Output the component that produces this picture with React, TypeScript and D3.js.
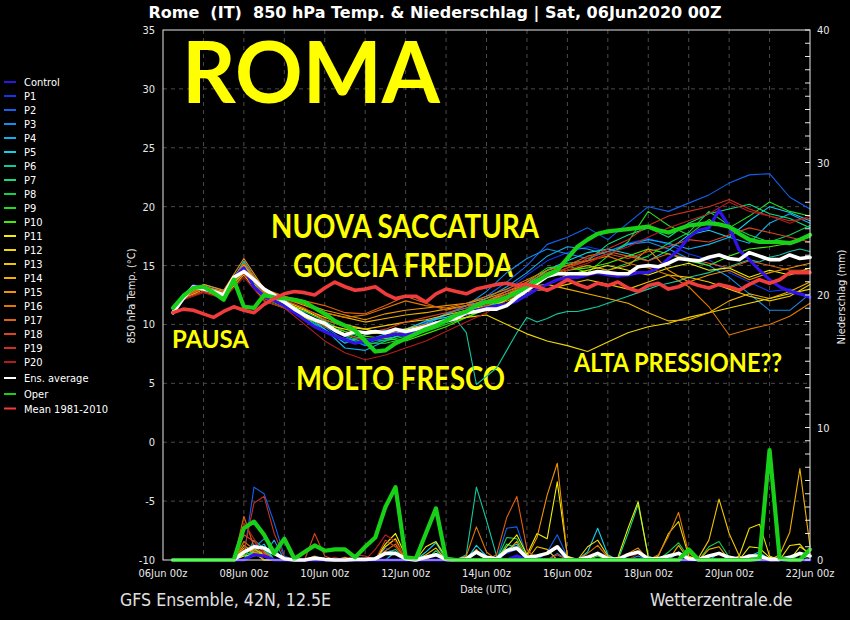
import React from 'react';
import * as d3 from 'd3';

const W = 850;
const H = 620;
const X0 = 163;
const X1 = 810;
const Y0 = 30;
const Y1 = 560;

const DAY_TICKS = [0, 2, 4, 6, 8, 10, 12, 14, 16];
const DAY_LABELS = ['06Jun 00z', '08Jun 00z', '10Jun 00z', '12Jun 00z', '14Jun 00z', '16Jun 00z', '18Jun 00z', '20Jun 00z', '22Jun 00z'];
const GRID_DAYS = [1, 2, 3, 4, 5, 6, 7, 8, 9, 10, 11, 12, 13, 14, 15];
const TEMP_TICKS = [35, 30, 25, 20, 15, 10, 5, 0, -5, -10];
const TEMP_GRID = [30, 25, 20, 15, 10, 5, 0, -5];
const PRECIP_TICKS = [0, 10, 20, 30, 40];
const PRECIP_MINOR = d3.range(0, 41);

// time grids (days after 06Jun 00z)
const T6 = d3.range(64).map((i) => 0.25 + i * 0.25);
const T12 = [0.25, ...d3.range(1, 33).map((i) => i * 0.5)];

const MEMBER_NAMES = ['P1', 'P2', 'P3', 'P4', 'P5', 'P6', 'P7', 'P8', 'P9', 'P10', 'P11', 'P12', 'P13', 'P14', 'P15', 'P16', 'P17', 'P18', 'P19', 'P20'];
const MEMBER_COLORS = ['#1236f0', '#1262f0', '#128ef0', '#10b0f0', '#10d0ec', '#10c8a0', '#10dc80', '#10d050', '#20dc20', '#44ec00', '#f0f000', '#f0d800', '#f0c400', '#f0b000', '#f09400', '#e07800', '#e06010', '#dc4420', '#cc3020', '#b41c1c'];

// 850 hPa temperature, members (12h)
const tempP1 = [11.1, 12.4, 13.3, 12.8, 14.6, 12.3, 11.5, 10.4, 9.4, 8.8, 8.6, 8.9, 9.4, 9.9, 10.3, 11.0, 11.8, 12.9, 14.2, 15.4, 16.1, 16.6, 16.2, 16.9, 17.3, 16.8, 16.0, 15.5, 14.4, 13.6, 12.8, 13.0, 12.4];
const tempP2 = [11.0, 12.5, 13.4, 12.9, 15.2, 12.6, 11.9, 11.0, 9.8, 8.6, 8.3, 9.0, 9.6, 10.2, 10.9, 11.6, 12.4, 13.6, 15.0, 16.8, 17.4, 18.2, 17.2, 18.6, 20.0, 19.6, 20.3, 21.0, 22.0, 22.7, 22.8, 20.8, 19.8];
const tempP3 = [10.9, 12.3, 13.1, 12.6, 14.9, 12.5, 11.8, 10.8, 9.9, 9.0, 8.2, 8.7, 9.2, 10.0, 10.8, 11.6, 12.8, 14.4, 15.6, 16.4, 16.0, 15.6, 16.2, 16.8, 17.0, 16.4, 15.6, 15.0, 14.0, 12.6, 11.2, 11.2, 12.6];
const tempP4 = [11.2, 12.6, 13.2, 12.4, 15.4, 12.8, 12.0, 10.6, 9.6, 8.0, 7.8, 8.6, 9.3, 10.1, 10.9, 11.4, 12.2, 13.2, 14.4, 15.8, 16.6, 16.4, 15.9, 16.8, 17.2, 16.9, 16.4, 16.8, 17.4, 16.9, 18.6, 19.4, 18.6];
const tempP5 = [11.0, 12.2, 13.0, 12.5, 14.7, 12.7, 12.1, 10.9, 9.6, 8.4, 9.1, 9.5, 9.6, 10.3, 10.6, 11.2, 11.8, 12.6, 13.4, 14.6, 15.4, 16.1, 16.4, 16.0, 15.4, 16.3, 17.6, 18.0, 17.4, 18.8, 20.0, 19.5, 18.8];
const tempP6 = [
  11.1, 12.3, 13.3, 13.1, 12.9, 12.6, 13.8, 15.3,
  13.2, 12.6, 12.2, 11.8, 11.2, 10.6, 10.0, 9.4,
  9.0, 8.8, 8.6, 8.5, 8.9, 9.2, 9.3, 9.5,
  9.6, 9.9, 10.2, 10.5, 10.4, 9.3, 4.9, 5.6,
  6.3, 7.8, 9.3, 10.6, 10.2, 10.5, 10.9, 11.1,
  11.1, 11.3, 11.5, 11.8, 12.1, 12.4, 12.7, 13.0,
  13.3, 13.5, 13.7, 14.0, 14.2, 14.4, 14.7, 14.9,
  15.2, 15.5, 15.3, 15.7, 15.9, 16.2, 16.4, 16.2,
];
const tempP7 = [11.1, 12.4, 13.2, 12.7, 15.0, 12.4, 11.6, 10.7, 9.8, 9.2, 8.7, 8.8, 9.1, 9.7, 10.4, 11.0, 11.5, 12.2, 13.4, 14.6, 15.2, 15.4, 16.8, 17.6, 18.2, 17.4, 18.6, 19.4, 19.8, 20.2, 19.4, 19.0, 18.2];
const tempP8 = [11.0, 12.3, 13.1, 12.5, 14.8, 12.3, 11.7, 11.1, 10.3, 9.4, 8.8, 8.6, 9.0, 9.6, 10.2, 10.9, 11.6, 12.0, 13.0, 14.0, 14.6, 15.0, 14.6, 15.2, 15.8, 16.9, 17.8, 19.6, 18.4, 17.6, 17.0, 17.6, 18.4];
const tempP9 = [11.2, 12.5, 13.3, 12.6, 15.0, 12.5, 11.9, 10.9, 9.8, 9.1, 8.4, 8.4, 8.8, 9.4, 10.0, 10.6, 11.3, 12.4, 13.6, 14.8, 15.0, 14.4, 15.8, 17.0, 19.6, 18.4, 17.6, 18.9, 18.2, 19.2, 20.4, 19.6, 19.2];
const tempP10 = [11.0, 12.2, 13.0, 12.4, 14.6, 12.2, 11.5, 10.6, 9.9, 9.4, 9.0, 8.8, 8.6, 9.2, 9.8, 10.6, 11.4, 12.1, 13.1, 14.2, 14.6, 14.8, 15.2, 15.8, 16.4, 16.0, 15.4, 15.0, 15.8, 16.4, 16.6, 16.9, 17.4];
const tempP11 = [10.9, 12.2, 13.0, 12.4, 14.4, 12.4, 11.8, 11.2, 10.4, 9.8, 9.6, 9.2, 9.4, 10.0, 10.4, 10.8, 11.4, 12.0, 12.6, 13.4, 14.2, 14.6, 15.0, 14.6, 14.2, 14.8, 15.2, 14.6, 14.8, 14.0, 14.6, 14.2, 14.8];
const tempP12 = [11.0, 12.2, 12.8, 12.3, 14.2, 12.0, 11.4, 10.6, 10.0, 9.6, 9.2, 9.3, 9.6, 10.0, 10.3, 10.6, 10.8, 10.0, 9.2, 8.6, 8.2, 7.7, 8.5, 9.3, 9.8, 10.1, 10.6, 11.0, 11.4, 11.8, 12.2, 12.6, 13.0];
const tempP13 = [11.1, 12.3, 13.0, 12.6, 14.8, 12.6, 12.0, 11.3, 10.6, 10.0, 9.6, 9.9, 10.2, 10.4, 10.8, 11.2, 11.6, 12.2, 12.8, 13.0, 13.4, 13.8, 13.4, 13.0, 13.6, 14.2, 14.0, 13.6, 13.0, 12.4, 12.0, 12.4, 13.4];
const tempP14 = [11.0, 12.4, 13.2, 12.8, 15.1, 12.8, 12.2, 11.6, 11.0, 10.6, 10.2, 10.5, 10.8, 11.0, 11.3, 11.6, 12.0, 12.6, 13.2, 13.4, 13.0, 12.6, 12.2, 11.8, 11.0, 10.3, 10.4, 11.0, 12.0, 12.6, 12.2, 12.8, 13.6];
const tempP15 = [11.1, 12.5, 13.4, 12.9, 15.6, 13.0, 12.4, 11.8, 11.2, 10.8, 10.4, 10.9, 11.2, 11.4, 11.6, 11.8, 12.2, 12.8, 13.4, 14.0, 14.6, 15.0, 14.6, 15.0, 16.4, 14.6, 13.6, 14.2, 14.6, 13.8, 14.4, 14.8, 15.2];
const tempP16 = [10.9, 12.3, 13.1, 12.5, 14.9, 12.7, 12.2, 11.7, 11.0, 10.6, 10.8, 11.4, 12.0, 11.6, 11.4, 11.8, 12.4, 13.0, 13.8, 14.6, 15.0, 15.4, 15.8, 15.2, 14.8, 14.2, 13.2, 11.5, 9.1, 9.6, 10.0, 10.7, 11.8];
const tempP17 = [11.0, 12.4, 13.2, 12.7, 15.2, 12.9, 12.4, 12.0, 11.6, 11.0, 10.9, 11.6, 12.4, 11.8, 11.2, 11.6, 12.0, 12.8, 13.6, 14.4, 15.0, 15.8, 16.2, 15.8, 15.4, 16.0, 15.6, 15.2, 14.8, 15.4, 15.0, 14.6, 14.6];
const tempP18 = [11.0, 12.3, 13.0, 12.6, 14.7, 12.6, 12.1, 11.4, 10.4, 9.8, 9.2, 9.6, 10.2, 10.6, 11.0, 11.4, 11.8, 12.6, 13.4, 14.2, 14.8, 15.4, 16.0, 15.6, 16.2, 16.6, 17.2, 17.0, 17.6, 18.2, 17.8, 17.4, 17.0];
const tempP19 = [11.1, 12.2, 12.8, 12.4, 14.3, 12.2, 11.6, 10.8, 9.8, 9.2, 8.6, 8.9, 9.4, 10.0, 10.4, 10.9, 11.6, 12.4, 13.2, 14.0, 14.8, 15.6, 16.4, 17.2, 18.4, 19.2, 19.6, 20.0, 20.6, 19.8, 19.2, 18.8, 19.0];
const tempP20 = [10.9, 12.1, 12.7, 12.2, 14.0, 12.0, 11.4, 10.0, 8.6, 7.6, 7.0, 7.4, 8.0, 8.6, 9.4, 10.2, 11.0, 12.0, 13.2, 14.0, 14.6, 15.2, 16.0, 16.6, 17.4, 18.2, 18.8, 19.4, 20.4, 19.6, 19.2, 18.6, 19.2];
const MEMBER_TEMPS = [tempP1, tempP2, tempP3, tempP4, tempP5, tempP6, tempP7, tempP8, tempP9, tempP10, tempP11, tempP12, tempP13, tempP14, tempP15, tempP16, tempP17, tempP18, tempP19, tempP20];

// 6h series
const tempControl = [
  11.0, 12.2, 13.3, 13.0, 12.8, 12.4, 13.9, 14.8,
  13.2, 12.4, 12.0, 11.6, 11.0, 10.4, 9.8, 9.4,
  9.0, 8.7, 8.4, 8.6, 8.8, 9.0, 9.2, 9.1,
  9.4, 9.7, 10.0, 10.3, 10.6, 10.9, 11.2, 11.4,
  11.6, 11.7, 12.0, 12.5, 13.0, 13.4, 13.8, 14.0,
  14.0, 14.2, 14.4, 14.2, 14.1, 14.2, 14.4, 14.4,
  14.8, 15.6, 16.3, 17.4, 18.0, 18.2, 19.7, 18.3,
  16.3, 15.5, 14.6, 13.8, 13.2, 12.8, 12.6, 12.3,
];
const tempEnsAvg = [
  11.0, 12.2, 13.2, 13.0, 12.8, 12.5, 14.0, 14.5,
  13.8, 13.0, 12.5, 11.9, 11.3, 10.8, 10.4, 10.1,
  9.5, 9.1, 9.4, 9.3, 9.4, 9.3, 9.6, 9.4,
  9.6, 9.8, 10.1, 10.3, 10.5, 11.0, 11.1, 11.3,
  11.3, 11.6, 12.3, 12.9, 13.5, 14.1, 14.3, 14.3,
  14.3, 14.3, 14.5, 14.4, 14.3, 14.3, 14.9, 15.0,
  14.9, 15.2, 15.6, 15.5, 15.4, 15.7, 15.9, 15.6,
  15.5, 16.1, 15.8, 15.5, 15.5, 15.9, 15.6, 15.7,
];
const tempOper = [
  11.4, 12.4, 13.1, 13.2, 12.7, 12.1, 13.8, 11.5,
  11.4, 12.5, 12.3, 12.2, 12.1, 11.9, 11.4, 10.9,
  10.3, 9.9, 9.5, 8.6, 7.7, 7.8, 8.4, 8.8,
  9.2, 9.6, 9.9, 10.3, 10.8, 11.1, 11.6, 11.9,
  12.0, 12.3, 12.7, 13.2, 13.7, 14.2, 14.6, 15.6,
  16.6, 17.2, 17.7, 17.9, 18.0, 18.1, 18.2, 18.3,
  18.0, 17.8, 18.1, 18.4, 18.5, 18.6, 18.5, 18.3,
  17.7, 17.2, 17.0, 17.0, 17.0, 16.9, 17.2, 17.6,
];
const tempMean = [
  11.0, 11.3, 11.2, 10.9, 10.6, 11.1, 11.5, 11.2,
  11.0, 11.7, 12.2, 12.6, 12.8, 12.7, 12.5, 13.1,
  13.6, 13.2, 12.9, 13.0, 13.2, 12.6, 12.2, 12.4,
  12.4, 11.9, 12.6, 13.0, 12.8, 12.6, 13.0, 13.2,
  13.4, 13.5, 13.3, 13.4, 13.2, 12.9, 13.3, 13.8,
  13.4, 13.1, 13.5, 13.3, 13.6, 13.1, 12.8, 13.3,
  13.5, 13.0, 13.2, 13.6, 13.3, 13.1, 13.4, 13.2,
  12.9, 13.4, 13.8, 13.5, 13.8, 14.4, 14.4, 14.4,
];

// precipitation (mm / 6h), [day, mm]; all other 6h steps are 0
const rainP1 = [[2.0, 0.5], [2.25, 1.2], [2.5, 0.8], [5.5, 0.9], [5.75, 0.5], [8.5, 0.5], [8.75, 0.8]];
const rainP2 = [[2.0, 0.3], [2.25, 5.5], [2.5, 5.0], [2.75, 2.8], [3.0, 0.3], [8.5, 2.4], [8.75, 2.5], [9.0, 0.3], [9.5, 0.6], [9.75, 1.9], [10.0, 0.2]];
const rainP3 = [[2.25, 0.9], [2.5, 1.6], [2.75, 0.8], [5.5, 0.6], [5.75, 0.4], [9.75, 0.5], [11.75, 0.3]];
const rainP4 = [[2.25, 0.6], [2.5, 0.4], [2.75, 1.5], [12.75, 0.6], [13.75, 0.5]];
const rainP5 = [[2.25, 0.7], [2.5, 1.2], [5.75, 0.6], [6.5, 0.6], [6.75, 1.3], [7.75, 1.1], [8.0, 0.3], [8.5, 0.8], [8.75, 1.2], [10.5, 0.6], [10.75, 2.4], [11.0, 0.4], [14.5, 0.3], [14.75, 0.6]];
const rainP6 = [[2.25, 1.5], [2.5, 0.9], [7.5, 0.4], [7.75, 5.5], [8.0, 3.0], [8.25, 0.3]];
const rainP7 = [[2.0, 0.6], [2.25, 0.8], [2.5, 0.5], [6.75, 0.7], [8.5, 1.2], [8.75, 0.9], [11.5, 2.0], [11.75, 4.2], [12.0, 0.3]];
const rainP8 = [[2.25, 0.5], [2.5, 0.7], [5.5, 0.5], [5.75, 0.8], [8.5, 1.7], [8.75, 1.6], [9.0, 0.2], [12.5, 0.6], [12.75, 1.3], [13.0, 0.2], [13.5, 1.0], [13.75, 1.4], [14.0, 0.2]];
const rainP9 = [[2.0, 0.4], [2.25, 0.6], [7.75, 0.5], [10.75, 0.3], [15.75, 0.4]];
const rainP10 = [[2.25, 0.3], [2.5, 0.5]];
const rainP11 = [[2.0, 0.3], [2.25, 0.4], [2.5, 0.6], [5.5, 1.2], [5.75, 2.0], [6.0, 0.3], [6.5, 1.0], [6.75, 1.4], [7.0, 0.2], [8.5, 1.0], [8.75, 1.9], [9.0, 0.4], [9.25, 2.0], [9.5, 1.6], [9.75, 5.9], [10.0, 0.3], [11.25, 0.2], [11.5, 2.4], [11.75, 4.4], [12.0, 0.2], [14.5, 1.0], [14.75, 0.9], [15.0, 0.2], [15.75, 1.0], [16.0, 0.5]];
const rainP12 = [[2.25, 0.5], [2.5, 0.3], [5.5, 1.0], [5.75, 1.6], [10.5, 1.0], [10.75, 1.5], [11.0, 0.3], [12.25, 0.3], [12.5, 2.0], [12.75, 2.9], [13.0, 0.3], [14.25, 0.3], [14.5, 2.4], [14.75, 2.7], [15.0, 0.3], [15.5, 1.1], [15.75, 1.2], [16.0, 0.3]];
const rainP13 = [[2.0, 0.6], [2.25, 0.8], [2.5, 0.4], [6.5, 0.4], [6.75, 0.9], [9.25, 1.0], [9.5, 0.8], [13.25, 0.2], [13.5, 1.5], [13.75, 4.6], [14.0, 2.0], [14.25, 0.3]];
const rainP14 = [[2.0, 0.9], [2.25, 0.5], [8.5, 0.6], [8.75, 1.4], [12.75, 1.1], [13.5, 0.8], [13.75, 1.0], [15.25, 0.4], [15.5, 2.1], [15.75, 6.9], [16.0, 1.0]];
const rainP15 = [[2.0, 1.1], [2.25, 0.6], [2.5, 0.3], [4.5, 0.2], [7.75, 0.8], [9.0, 0.2], [9.25, 1.7], [9.5, 4.9], [9.75, 7.3], [10.0, 0.2], [11.5, 0.5], [11.75, 0.9]];
const rainP16 = [[2.0, 1.4], [2.25, 0.8], [3.75, 0.3], [5.5, 0.7], [5.75, 1.2], [6.75, 0.5], [7.5, 0.3], [7.75, 2.5], [8.0, 0.6], [10.5, 0.5], [10.75, 1.1], [11.0, 0.2], [12.25, 0.4], [12.5, 1.8], [12.75, 3.6], [13.0, 0.5]];
const rainP17 = [[2.0, 3.3], [2.25, 1.0], [2.5, 0.5], [8.25, 0.4], [8.5, 3.2], [8.75, 4.8], [9.0, 0.8]];
const rainP18 = [[2.0, 1.9], [2.25, 1.4], [2.5, 0.6], [3.75, 2.0], [4.0, 0.3], [5.5, 1.5], [5.75, 1.0], [9.75, 0.4], [10.75, 0.5]];
const rainP19 = [[2.0, 0.6], [2.25, 4.3], [2.5, 4.8], [2.75, 2.0], [3.0, 0.2], [4.75, 0.4], [5.0, 0.3]];
const rainP20 = [[2.0, 2.8], [2.25, 1.6], [2.5, 0.4], [4.25, 0.2], [5.25, 0.8], [5.5, 1.9], [5.75, 1.4], [6.0, 0.2], [11.75, 0.5]];
const MEMBER_RAINS = [rainP1, rainP2, rainP3, rainP4, rainP5, rainP6, rainP7, rainP8, rainP9, rainP10, rainP11, rainP12, rainP13, rainP14, rainP15, rainP16, rainP17, rainP18, rainP19, rainP20];
const rainControl = [[2.25, 0.4], [2.5, 0.3], [8.75, 0.3]];
const rainEnsAvg = [[2.0, 0.6], [2.25, 1.0], [2.5, 0.9], [2.75, 0.5], [3.0, 0.1], [3.75, 0.15], [4.0, 0.05], [4.75, 0.05], [5.0, 0.05], [5.25, 0.1], [5.5, 0.5], [5.75, 0.5], [6.0, 0.1], [6.5, 0.2], [6.75, 0.4], [7.0, 0.05], [7.5, 0.1], [7.75, 0.6], [8.0, 0.2], [8.25, 0.1], [8.5, 0.7], [8.75, 0.9], [9.0, 0.2], [9.25, 0.3], [9.5, 0.5], [9.75, 1.0], [10.0, 0.1], [10.5, 0.2], [10.75, 0.5], [11.0, 0.1], [11.25, 0.05], [11.5, 0.4], [11.75, 0.6], [12.0, 0.1], [12.25, 0.1], [12.5, 0.3], [12.75, 0.5], [13.0, 0.1], [13.25, 0.05], [13.5, 0.3], [13.75, 0.5], [14.0, 0.2], [14.25, 0.05], [14.5, 0.3], [14.75, 0.3], [15.0, 0.05], [15.25, 0.05], [15.5, 0.2], [15.75, 0.5], [16.0, 0.3]];
const rainOper = [[2.0, 2.4], [2.25, 2.9], [2.5, 1.9], [2.75, 0.5], [3.0, 1.6], [3.25, 0.1], [3.5, 0.6], [3.75, 1.1], [4.0, 0.7], [4.25, 0.8], [4.5, 0.8], [4.75, 0.2], [5.0, 1.0], [5.25, 1.7], [5.5, 4.0], [5.75, 5.5], [6.0, 0.2], [6.25, 0.1], [6.5, 2.0], [6.75, 3.9], [7.0, 0.1], [13.0, 0.8], [14.75, 0.1], [15.0, 8.3], [15.25, 0.1], [16.0, 0.8]];

const LEGEND_LABELS = ['Control', ...MEMBER_NAMES, 'Ens. average', 'Oper', 'Mean 1981-2010'];
const CONTROL_COLOR = '#3214e6';
const ENS_COLOR = '#ffffff';
const OPER_COLOR = '#18d018';
const MEAN_COLOR = '#f03c3c';

const FONT = "'DejaVu Sans Condensed', 'DejaVu Sans', sans-serif";
const TITLE_FONT = "'DejaVu Sans', sans-serif";
const BIG = "Lato, 'Open Sans', sans-serif";

const x = d3.scaleLinear().domain([0, 16]).range([X0, X1]);
const yT = d3.scaleLinear().domain([-10, 35]).range([Y1, Y0]);
const yP = d3.scaleLinear().domain([0, 40]).range([Y1, Y0]);

const fillRain = (ev: number[][]) =>
  T6.map((t) => {
    const e = ev.find((p) => Math.abs(p[0] - t) < 1e-6);
    return e ? e[1] : 0;
  });

const tempPath = (vals: number[]) => {
  const times = vals.length === 64 ? T6 : T12;
  const pts: [number, number][] = vals.map((v, i) => [times[i], v]);
  return d3.line<[number, number]>().x((d) => x(d[0])).y((d) => yT(d[1]))(pts) || '';
};
const rainPath = (ev: number[][]) => {
  const vals = fillRain(ev);
  const pts: [number, number][] = vals.map((v, i) => [T6[i], v]);
  return d3.line<[number, number]>().x((d) => x(d[0])).y((d) => yP(d[1]))(pts) || '';
};

const Annot = ({ x0, y, size, len, text }: { x0: number; y: number; size: number; len: number; text: string }) => (
  <text x={x0} y={y} fontFamily={BIG} fontWeight={700} fontSize={size} fill="#ffff00" textLength={len} lengthAdjust="spacingAndGlyphs">
    {text}
  </text>
);

export default function App() {
  const legendY = LEGEND_LABELS.map((_, i) => (i <= 20 ? 82 + i * 14 : i === 21 ? 378 : i === 22 ? 394 : 408.5));
  const legendColors = [CONTROL_COLOR, ...MEMBER_COLORS, ENS_COLOR, OPER_COLOR, MEAN_COLOR];
  const lineProps = { fill: 'none', strokeLinejoin: 'round' as const, strokeLinecap: 'round' as const };
  return (
    <svg width={W} height={H} style={{ position: 'absolute', left: 0, top: 0, background: '#000' }}>
      <rect x={0} y={0} width={W} height={H} fill="#000" />
      {/* title */}
      <text x={435} y={18} textAnchor="middle" fontFamily={TITLE_FONT} fontWeight={700} fontSize={16} fill="#fff" style={{ whiteSpace: 'pre' }}>
        {'Rome  (IT)  850 hPa Temp. & Niederschlag | Sat, 06Jun2020 00Z'}
      </text>
      {/* grid */}
      {TEMP_GRID.map((v) => (
        <line key={'gh' + v} x1={X0} x2={X1} y1={yT(v)} y2={yT(v)} stroke="#4a4a4a" strokeDasharray="4,4" />
      ))}
      {GRID_DAYS.map((d) => (
        <line key={'gv' + d} x1={x(d)} x2={x(d)} y1={Y0} y2={Y1} stroke="#4a4a4a" strokeDasharray="4,4" />
      ))}
      {/* annotations */}
      <Annot x0={182} y={103} size={86} len={258} text="ROMA" />
      <Annot x0={271} y={238} size={32} len={268} text="NUOVA SACCATURA" />
      <Annot x0={293} y={277} size={32} len={220} text="GOCCIA FREDDA" />
      <Annot x0={172} y={348} size={25} len={77} text="PAUSA" />
      <Annot x0={296} y={390} size={32} len={209} text="MOLTO FRESCO" />
      <Annot x0={574} y={372} size={26.5} len={208} text="ALTA PRESSIONE??" />
      {/* members */}
      {MEMBER_TEMPS.map((vals, i) => (
        <path key={'mt' + i} d={tempPath(vals)} stroke={MEMBER_COLORS[i]} strokeWidth={1.1} {...lineProps} />
      ))}
      {MEMBER_RAINS.map((ev, i) => (
        <path key={'mr' + i} d={rainPath(ev)} stroke={MEMBER_COLORS[i]} strokeWidth={1.1} {...lineProps} />
      ))}
      {/* control */}
      <path d={tempPath(tempControl)} stroke={CONTROL_COLOR} strokeWidth={3.2} {...lineProps} />
      <path d={rainPath(rainControl)} stroke={CONTROL_COLOR} strokeWidth={3.2} {...lineProps} />
      {/* ensemble average */}
      <path d={tempPath(tempEnsAvg)} stroke={ENS_COLOR} strokeWidth={3.6} {...lineProps} />
      <path d={rainPath(rainEnsAvg)} stroke={ENS_COLOR} strokeWidth={3.6} {...lineProps} />
      {/* oper */}
      <path d={tempPath(tempOper)} stroke={OPER_COLOR} strokeWidth={4.2} {...lineProps} />
      <path d={rainPath(rainOper)} stroke={OPER_COLOR} strokeWidth={4.2} {...lineProps} />
      {/* mean */}
      <path d={tempPath(tempMean)} stroke={MEAN_COLOR} strokeWidth={3.6} {...lineProps} />
      {/* frame */}
      <rect x={X0} y={Y0} width={X1 - X0} height={Y1 - Y0} fill="none" stroke="#e8e8e8" strokeWidth={1} />
      {/* right ticks */}
      {PRECIP_MINOR.map((v) => (
        <line key={'pt' + v} x1={X1 - 5} x2={X1} y1={yP(v)} y2={yP(v)} stroke="#e8e8e8" />
      ))}
      {PRECIP_TICKS.map((v) => (
        <text key={'pl' + v} x={817} y={yP(v) + 4} fontFamily={FONT} fontSize={11} fill="#e8e8e8">
          {v}
        </text>
      ))}
      {TEMP_TICKS.map((v) => (
        <text key={'tl' + v} x={155} y={yT(v) + 4} textAnchor="end" fontFamily={FONT} fontSize={11} fill="#e8e8e8">
          {v}
        </text>
      ))}
      {DAY_TICKS.map((d, i) => (
        <text key={'dl' + d} x={x(d)} y={577} textAnchor="middle" fontFamily={FONT} fontSize={11} fill="#e8e8e8">
          {DAY_LABELS[i]}
        </text>
      ))}
      <text x={486} y={593} textAnchor="middle" fontFamily={FONT} fontSize={10.5} fill="#e8e8e8">
        Date (UTC)
      </text>
      <text transform="translate(135,296) rotate(-90)" textAnchor="middle" fontFamily={FONT} fontSize={11} fill="#e8e8e8">
        850 hPa Temp. (°C)
      </text>
      <text transform="translate(845,297) rotate(-90)" textAnchor="middle" fontFamily={FONT} fontSize={11} fill="#e8e8e8">
        Niederschlag (mm)
      </text>
      {/* footer */}
      <text x={120} y={606} fontFamily={FONT} fontSize={17.6} fill="#e0e0e0">
        GFS Ensemble, 42N, 12.5E
      </text>
      <text x={650} y={606} fontFamily={FONT} fontSize={17.6} fill="#e0e0e0">
        Wetterzentrale.de
      </text>
      {/* legend */}
      {LEGEND_LABELS.map((lab, i) => (
        <g key={'lg' + i}>
          <line x1={4} x2={16} y1={legendY[i]} y2={legendY[i]} stroke={legendColors[i]} strokeWidth={2} />
          <text x={24} y={legendY[i] + 4} fontFamily={FONT} fontSize={11} fill="#fff">
            {lab}
          </text>
        </g>
      ))}
    </svg>
  );
}
